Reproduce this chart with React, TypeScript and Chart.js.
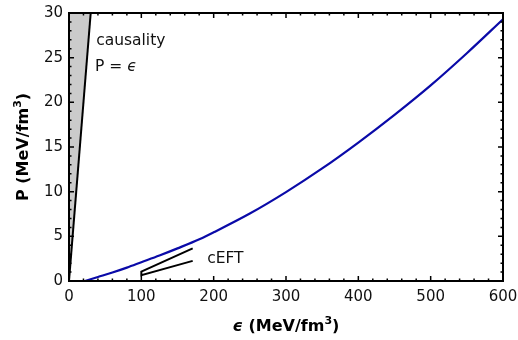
import React, { useEffect, useRef } from "react";
import { Chart, registerables } from "chart.js";

Chart.register(...registerables);

// EoS curve (energy density vs pressure), MeV/fm^3
const eosEps = [22, 40, 60, 80, 100, 125, 150, 181, 200, 250, 300, 350, 400, 450, 500, 550, 600];
const eosP = [0, 0.45, 0.95, 1.5, 2.1, 2.85, 3.65, 4.7, 5.45, 7.55, 9.95, 12.6, 15.5, 18.6, 21.9, 25.5, 29.3];

// causality line P = eps
const causEps = [0, 30];
const causP = [0, 30];

// cEFT band outline
const cEftEps = [171, 100, 100, 171];
const cEftP = [3.65, 1.05, 0.65, 2.25];

const xTicks = [0, 100, 200, 300, 400, 500, 600];
const yTicks = [0, 5, 10, 15, 20, 25, 30];

const FONT = "'DejaVu Sans', sans-serif";

const toPts = (xs: number[], ys: number[]) => xs.map((x, i) => ({ x, y: ys[i] }));

type Seg = { t: string; font: string; dy?: number };

const drawSegs = (ctx: any, segs: Seg[], x: number, y: number, align: "left" | "center") => {
  let total = 0;
  for (const s of segs) {
    ctx.font = s.font;
    total += ctx.measureText(s.t).width;
  }
  let cx = align === "center" ? x - total / 2 : x;
  ctx.textAlign = "left";
  ctx.textBaseline = "middle";
  for (const s of segs) {
    ctx.font = s.font;
    ctx.fillText(s.t, cx, y + (s.dy || 0));
    cx += ctx.measureText(s.t).width;
  }
};

const decorPlugin = {
  id: "decor",
  afterDatasetsDraw(chart: any) {
    const { ctx, chartArea: a, scales } = chart;
    const xs = scales.x;
    const ys = scales.y;
    ctx.save();
    // ticks
    ctx.strokeStyle = "#000";
    ctx.lineWidth = 1.5;
    const drawX = (v: number, len: number) => {
      const px = xs.getPixelForValue(v);
      ctx.beginPath();
      ctx.moveTo(px, a.bottom);
      ctx.lineTo(px, a.bottom - len);
      ctx.moveTo(px, a.top);
      ctx.lineTo(px, a.top + len);
      ctx.stroke();
    };
    const drawY = (v: number, len: number) => {
      const py = ys.getPixelForValue(v);
      ctx.beginPath();
      ctx.moveTo(a.left, py);
      ctx.lineTo(a.left + len, py);
      ctx.moveTo(a.right, py);
      ctx.lineTo(a.right - len, py);
      ctx.stroke();
    };
    for (let v = 0; v <= 600; v += 20) drawX(v, v % 100 === 0 ? 5 : 2.5);
    for (let v = 0; v <= 30; v += 1) drawY(v, v % 5 === 0 ? 5 : 2.5);
    // frame
    ctx.lineWidth = 2;
    ctx.strokeRect(a.left, a.top, a.right - a.left, a.bottom - a.top);

    // annotations
    ctx.fillStyle = "#111";
    const f = `15.5px ${FONT}`;
    const fi = `italic 15.5px ${FONT}`;
    drawSegs(ctx, [{ t: "causality", font: f }], xs.getPixelForValue(37.5), ys.getPixelForValue(26.9), "left");
    drawSegs(ctx, [{ t: "P = ", font: f }, { t: "\u03F5", font: fi }], xs.getPixelForValue(36), ys.getPixelForValue(24.0), "left");
    drawSegs(ctx, [{ t: "cEFT", font: f }], xs.getPixelForValue(191), ys.getPixelForValue(2.45), "left");

    // axis titles with superscript
    const mb = `bold 16px ${FONT}`;
    const mbi = `bold italic 16px ${FONT}`;
    const sb = `bold 11px ${FONT}`;
    ctx.fillStyle = "#000";
    drawSegs(
      ctx,
      [
        { t: "\u03F5", font: mbi },
        { t: " (MeV/fm", font: mb },
        { t: "3", font: sb, dy: -6 },
        { t: ")", font: mb },
      ],
      (a.left + a.right) / 2,
      327,
      "center"
    );
    ctx.save();
    ctx.translate(24, (a.top + a.bottom) / 2);
    ctx.rotate(-Math.PI / 2);
    drawSegs(
      ctx,
      [
        { t: "P (MeV/fm", font: mb },
        { t: "3", font: sb, dy: -6 },
        { t: ")", font: mb },
      ],
      0,
      0,
      "center"
    );
    ctx.restore();
    ctx.restore();
  },
};

export default function App() {
  const ref = useRef<HTMLCanvasElement>(null);
  useEffect(() => {
    if (!ref.current) return;
    const chart = new Chart(ref.current, {
      type: "scatter",
      data: {
        datasets: [
          {
            data: toPts(causEps, causP),
            showLine: true,
            fill: "end",
            backgroundColor: "#cbcbcb",
            borderColor: "#000",
            borderWidth: 2,
            pointRadius: 0,
          },
          {
            data: toPts(eosEps, eosP),
            showLine: true,
            borderColor: "#0a0aa8",
            borderWidth: 2.2,
            pointRadius: 0,
            cubicInterpolationMode: "monotone",
            fill: false,
          },
          {
            data: toPts(cEftEps, cEftP),
            showLine: true,
            borderColor: "#000",
            borderWidth: 2,
            pointRadius: 0,
            fill: false,
          },
        ],
      },
      options: {
        animation: false,
        responsive: false,
        layout: { padding: { left: 0, right: 15, top: 13, bottom: 0 } },
        plugins: { legend: { display: false }, tooltip: { enabled: false } },
        scales: {
          x: {
            type: "linear",
            min: 0,
            max: 600,
            afterFit: (s: any) => {
              s.height = 59;
              s.paddingLeft = 0;
              s.paddingRight = 0;
            },
            afterBuildTicks: (s: any) => {
              s.ticks = xTicks.map((v) => ({ value: v }));
            },
            grid: { display: false, drawTicks: false },
            border: { display: false },
            ticks: {
              padding: 7,
              color: "#111",
              font: { family: FONT, size: 15 },
              maxRotation: 0,
            },
          },
          y: {
            type: "linear",
            min: 0,
            max: 30,
            afterFit: (s: any) => {
              s.width = 69;
              s.paddingTop = 0;
              s.paddingBottom = 0;
            },
            afterBuildTicks: (s: any) => {
              s.ticks = yTicks.map((v) => ({ value: v }));
            },
            grid: { display: false, drawTicks: false },
            border: { display: false },
            ticks: {
              padding: 6,
              color: "#111",
              font: { family: FONT, size: 15 },
            },
          },
        },
      },
      plugins: [decorPlugin],
    });
    return () => chart.destroy();
  }, []);
  return (
    <div style={{ position: "absolute", left: 0, top: 0, width: 518, height: 340, background: "#fff" }}>
      <canvas ref={ref} width={518} height={340} style={{ display: "block" }} />
    </div>
  );
}
